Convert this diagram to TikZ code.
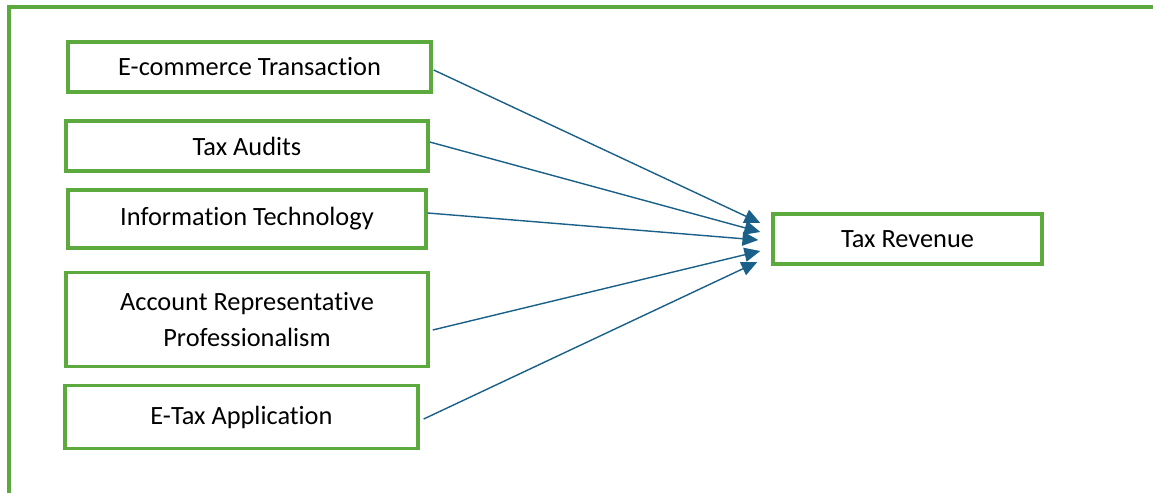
\documentclass[tikz,border=0pt]{standalone}
\usepackage{fontspec}
\setmainfont[Ligatures=CommonOff]{Carlito}
\usepackage{tikz}
\usetikzlibrary{arrows.meta}
\definecolor{groen}{RGB}{92,170,62}
\definecolor{blauw}{RGB}{26,96,136}
\tikzset{
  vak/.style={draw=groen, line width=2pt, fill=white, align=center,
    inner sep=0pt, font=\fontsize{15}{20}\selectfont},
  pijl/.style={draw=blauw, line width=0.8pt, -{Triangle[length=9pt, width=8pt, fill=blauw]}}
}

\begin{document}
\begin{tikzpicture}[x=0.02cm, y=-0.02cm]
  \useasboundingbox (0,0) rectangle (1153,493);
  % kader (open aan rechts en onder)
  \draw[groen, line width=2pt] (9,493) -- (9,7) -- (1153,7);
  % oorzaken
  \node[vak, minimum width=7.26cm, minimum height=1.0cm] (ecom) at (249.5,67) {E-commerce Transaction};
  \node[vak, minimum width=7.24cm, minimum height=1.0cm] (audit) at (247,146) {Tax Audits};
  \node[vak, minimum width=7.16cm, minimum height=1.16cm] (it) at (247,219) {Information Technology};
  \node[vak, minimum width=7.24cm, minimum height=1.88cm] (ar) at (247,319.5) {Account Representative\\Professionalism};
  \node[vak, minimum width=7.06cm, minimum height=1.26cm] (etax) at (241.5,417) {E-Tax Application};
  % gevolg
  \node[vak, minimum width=5.38cm, minimum height=1.0cm] (omzet) at (907.5,239) {Tax Revenue};
  % pijlen
  \draw[pijl] ([xshift=0.02cm, yshift=-0.06cm]ecom.east) -- ([xshift=-0.22cm, yshift=0.32cm]omzet.west);
  \draw[pijl] ([yshift=0.08cm]audit.east) -- ([xshift=-0.22cm, yshift=0.14cm]omzet.west);
  \draw[pijl] ([yshift=0.12cm]it.east) -- ([xshift=-0.26cm, yshift=-0.02cm]omzet.west);
  \draw[pijl] ([xshift=0.06cm, yshift=-0.21cm]ar.east) -- ([xshift=-0.22cm, yshift=-0.24cm]omzet.west);
  \draw[pijl] ([xshift=0.08cm, yshift=-0.04cm]etax.east) -- ([xshift=-0.28cm, yshift=-0.46cm]omzet.west);
\end{tikzpicture}
\end{document}
